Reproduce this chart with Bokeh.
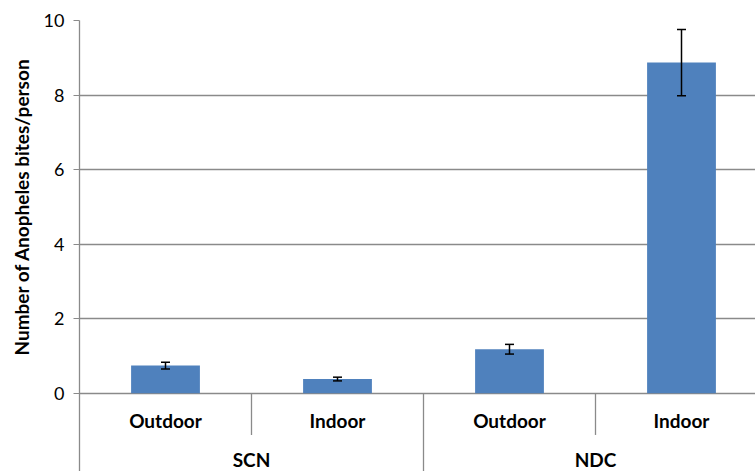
from bokeh.plotting import figure
from bokeh.models import ColumnDataSource, Whisker, TeeHead, FixedTicker, Range1d, Title
from bokeh.core.properties import value
from bokeh.embed import file_html
from bokeh.resources import INLINE

# data
sites = ["SCN", "SCN", "NDC", "NDC"]
locations = ["Outdoor", "Indoor", "Outdoor", "Indoor"]
bites = [0.74, 0.38, 1.18, 8.87]
errors = [0.09, 0.05, 0.13, 0.89]
site_labels = ["SCN", "NDC"]
y_ticks = [0, 2, 4, 6, 8, 10]
y_title = "Number of Anopheles bites/person"

FONT = "Lato"
GRID = "#8a8a8a"

xpos = [i + 0.5 for i in range(len(bites))]
src = ColumnDataSource(dict(
    x=xpos, top=bites,
    upper=[b + e for b, e in zip(bites, errors)],
    lower=[b - e for b, e in zip(bites, errors)],
    loc=locations,
))

W, H = 755, 471
LEFT, TOP = 79, 20
XS, YS = 172, 37.27  # px per unit
p = figure(width=W, height=H, output_backend="svg", toolbar_location=None,
           x_range=Range1d(0, (W - LEFT) / XS), y_range=Range1d(10 - (H - TOP) / YS, 10),
           min_border_left=LEFT, min_border_right=0, min_border_top=TOP, min_border_bottom=0)
p.outline_line_color = None
p.background_fill_color = "white"

p.vbar(x="x", top="top", bottom=0, width=0.4, source=src,
       fill_color="#4F81BD", line_color=None)

w = Whisker(source=src, base="x", upper="upper", lower="lower",
            line_color="black", line_width=1.5, level="overlay",
            upper_head=TeeHead(size=9, line_color="black", line_width=1.5),
            lower_head=TeeHead(size=9, line_color="black", line_width=1.5))
p.add_layout(w)

# x axis hidden; category labels drawn as text
p.xaxis.visible = False
p.xgrid.visible = False

p.ygrid.ticker = FixedTicker(ticks=y_ticks)
p.ygrid.grid_line_color = GRID
p.ygrid.grid_line_width = 1.3
p.yaxis.ticker = FixedTicker(ticks=y_ticks)
p.yaxis.axis_line_color = GRID
p.yaxis.axis_line_width = 1.3
p.yaxis.major_tick_line_color = GRID
p.yaxis.major_tick_out = 6
p.yaxis.major_tick_in = 0
p.yaxis.minor_tick_line_color = None
p.yaxis.major_label_standoff = 9
p.yaxis.major_label_text_font = FONT
p.yaxis.major_label_text_font_size = "18px"
p.yaxis.major_label_text_color = "black"

# y title, placed along the 0..10 part of the axis
p.add_layout(Title(text=y_title, align="left", offset=116, vertical_align="middle",
                   standoff=14, text_font=FONT, text_font_style="bold",
                   text_font_size="19px", text_color="black"), "left")

# separators below the axis
p.segment(x0=[1, 3], y0=[0, 0], x1=[1, 3], y1=[-1.12, -1.12], line_color=GRID, line_width=1.3)
p.segment(x0=[2], y0=[0], x1=[2], y1=[-3], line_color=GRID, line_width=1.3)

p.text(x="x", y=-0.72, text="loc", source=src, text_font=value(FONT),
       text_font_style="bold", text_font_size="19px", text_align="center",
       text_baseline="middle", text_color="black")
p.text(x=[1.0, 3.0], y=[-1.78, -1.78], text=site_labels, text_font=value(FONT),
       text_font_style="bold", text_font_size="19px", text_align="center",
       text_baseline="middle", text_color="black")

open("out.html", "w").write(file_html(p, INLINE))
